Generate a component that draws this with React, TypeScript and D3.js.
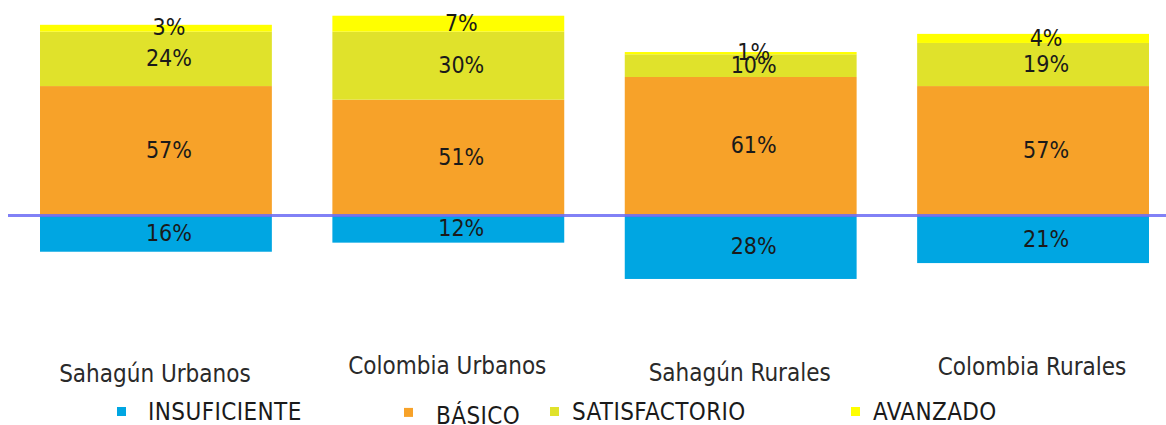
import { useEffect, useRef } from "react";
import * as d3 from "d3";

// categorías y niveles de desempeño
const categories = ["Sahagún Urbanos", "Colombia Urbanos", "Sahagún Rurales", "Colombia Rurales"];
const levels = ["INSUFICIENTE", "BÁSICO", "SATISFACTORIO", "AVANZADO"];

// porcentajes por nivel (en el mismo orden de categories)
const insuficiente = [16, 12, 28, 21];
const basico = [57, 51, 61, 57];
const satisfactorio = [24, 30, 10, 19];
const avanzado = [3, 7, 1, 4];

const levelColors = ["#00a6e2", "#f7a229", "#e0e22b", "#ffff00"];

// desplazamiento vertical de cada etiqueta de categoría
const catLabelDy = [0, -8, -1, -7];
// posición x de cada entrada de la leyenda
const legendX = [117, 404, 550, 851];
const legendDy = [0, 3, 0, 0];

const FONT = "'DejaVu Sans Condensed', 'DejaVu Sans', sans-serif";

const App = () => {
  const svgRef = useRef<SVGSVGElement>(null);

  useEffect(() => {
    if (!svgRef.current) return;
    const width = 1166;
    const height = 425;
    const svg = d3.select(svgRef.current);
    svg.selectAll("*").remove();
    svg.attr("width", width).attr("height", height).style("font-family", FONT);

    const x = d3.scaleBand<string>().domain(categories).range([40, 1149]).paddingInner(0.207).paddingOuter(0);
    const y = d3.scaleLinear().domain([-30, 100]).range([214.5 + 30 * 2.3, 214.5 - 100 * 2.26]);

    const series = [insuficiente, basico, satisfactorio, avanzado];

    // segmentos: insuficiente hacia abajo, el resto apilado hacia arriba
    const segs: { cat: string; level: number; v: number; y0: number; y1: number }[] = [];
    categories.forEach((cat, i) => {
      segs.push({ cat, level: 0, v: insuficiente[i], y0: -insuficiente[i], y1: 0 });
      let acc = 0;
      for (let l = 1; l < series.length; l++) {
        const v = series[l][i];
        segs.push({ cat, level: l, v, y0: acc, y1: acc + v });
        acc += v;
      }
    });

    const g = svg.append("g");
    g.selectAll("rect.seg")
      .data(segs)
      .join("rect")
      .attr("class", "seg")
      .attr("x", (d) => x(d.cat)!)
      .attr("width", x.bandwidth())
      .attr("y", (d) => y(d.y1))
      .attr("height", (d) => y(d.y0) - y(d.y1))
      .attr("fill", (d) => levelColors[d.level]);

    // línea base
    svg
      .append("line")
      .attr("x1", 8)
      .attr("x2", width)
      .attr("y1", y(0))
      .attr("y2", y(0))
      .attr("stroke", "#6b6bf5")
      .attr("stroke-opacity", 0.85)
      .attr("stroke-width", 3);

    // etiquetas de porcentaje
    g.selectAll("text.val")
      .data(segs)
      .join("text")
      .attr("class", "val")
      .attr("x", (d) => x(d.cat)! + x.bandwidth() / 2 + 13)
      .attr("y", (d) => (y(d.y0) + y(d.y1)) / 2 - 1)
      .attr("dy", "0.36em")
      .attr("text-anchor", "middle")
      .attr("fill", "#1a1a1a")
      .style("font-size", "23px")
      .text((d) => `${d.v}%`);

    // etiquetas de categoría
    svg
      .append("g")
      .selectAll("text")
      .data(categories)
      .join("text")
      .attr("x", (d) => x(d)! + x.bandwidth() / 2 - 1)
      .attr("y", (d, i) => 382 + catLabelDy[i])
      .attr("text-anchor", "middle")
      .attr("fill", "#2a2a2a")
      .style("font-size", "24px")
      .text((d) => d);

    // leyenda
    const leg = svg
      .append("g")
      .selectAll("g")
      .data(levels)
      .join("g")
      .attr("transform", (d, i) => `translate(${legendX[i]},${407 + legendDy[i] * 0.3})`);
    leg
      .append("rect")
      .attr("width", 9)
      .attr("height", 9)
      .attr("fill", (d, i) => levelColors[i]);
    leg
      .append("text")
      .attr("x", (d, i) => (i === 0 ? 31 : i === 1 ? 32 : 22))
      .attr("y", (d, i) => 13 + legendDy[i])
      .attr("fill", "#1a1a1a")
      .style("font-size", "24px")
      .style("letter-spacing", "0.4px")
      .text((d) => d);
  }, []);

  return <svg ref={svgRef} style={{ position: "absolute", left: 0, top: 0 }}></svg>;
};

export default App;
